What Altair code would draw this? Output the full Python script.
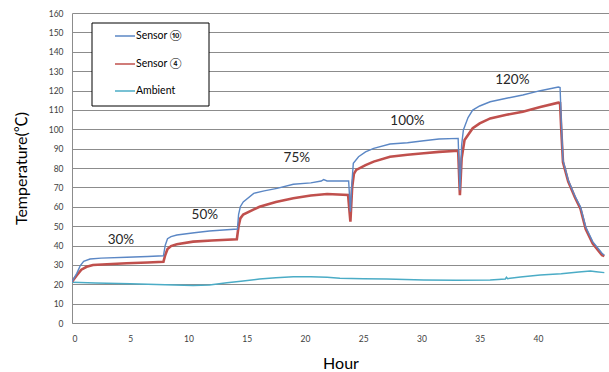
import altair as alt
import pandas as pd

# ---- data ----
s10_t = [0, 0.4, 0.7, 1.0, 1.55, 2.5, 4.7, 6.5, 7.85, 8.0, 8.2, 8.5, 9.0, 10.5, 11.8, 13.0, 14.2,
         14.3, 14.45, 14.7, 15.6, 16.5, 17.6, 19.0, 20.5, 21.4, 21.6, 21.9, 23.75, 23.9, 24.0, 24.15,
         24.6, 25.2, 25.9, 27.3, 28.8, 30.2, 31.5, 33.15, 33.3, 33.45, 33.6, 34.0, 34.4, 35.0, 35.9,
         37.3, 38.7, 40.2, 41.75, 41.9, 42.0, 42.15, 42.6, 43.2, 43.65, 44.1, 44.7, 45.5, 45.7]
s10_v = [21.3, 25.5, 29.5, 31.8, 33.0, 33.5, 33.9, 34.3, 34.7, 40, 43.5, 44.6, 45.4, 46.6, 47.5, 48.0, 48.5,
         56, 60, 62.5, 66.9, 68.2, 69.5, 71.6, 72.3, 73.3, 74.0, 73.3, 73.3, 57.5, 70, 82.4,
         85.8, 88.3, 90.1, 92.4, 93.0, 94.1, 95.0, 95.3, 68.5, 92, 99.6, 106, 109.9, 112, 114.2,
         116, 117.7, 119.9, 121.8, 121.5, 105, 84, 73.8, 65.2, 60, 49.7, 42, 36, 35]

s4_t = [0, 0.4, 0.8, 1.26, 1.8, 3.0, 4.7, 6.5, 7.85, 8.0, 8.2, 8.5, 9.0, 10.4, 12.0, 14.15,
        14.3, 14.45, 14.7, 16.1, 17.5, 19.0, 20.5, 21.9, 23.7, 23.9, 24.05, 24.2, 24.4, 25.2, 25.9,
        27.3, 28.8, 30.2, 31.5, 33.15, 33.3, 33.45, 33.7, 34.4, 35.0, 35.9, 37.3, 38.7, 40.2, 41.75,
        41.9, 42.0, 42.15, 42.6, 43.2, 43.65, 44.1, 44.7, 45.5, 45.7]
s4_v = [21.3, 24.5, 27.5, 29.0, 29.9, 30.3, 30.8, 31.2, 31.6, 35, 38.2, 39.7, 40.6, 42.0, 42.6, 43.2,
        50, 54, 56, 60, 62.5, 64.4, 65.8, 66.6, 66.1, 52.3, 70, 77, 79, 81.5, 83.3,
        85.8, 86.8, 87.6, 88.3, 88.9, 66, 85, 94.5, 100.5, 103, 105.6, 107.5, 109, 111.5, 113.7,
        113.5, 100, 83, 73, 64.5, 59, 48.5, 41, 35, 34.5]

amb_t = [0, 2, 5, 8, 10.4, 11.8, 13.3, 14.5, 16.1, 17.5, 19.0, 20.5, 21.9, 23.0, 25, 27, 30.2, 33,
         35.9, 37.2, 37.3, 37.4, 38.5, 40.2, 42, 43.5, 44.5, 45.0, 45.7]
amb_v = [21.0, 20.6, 20.2, 19.8, 19.3, 19.6, 20.8, 21.6, 22.7, 23.4, 23.9, 23.9, 23.6, 23.1, 22.9, 22.7, 22.2, 22.1,
         22.2, 22.7, 23.6, 22.9, 23.8, 24.8, 25.4, 26.3, 26.8, 26.5, 26.0]

series_names = ["Sensor ⑩", "Sensor ④", "Ambient"]
series_colors = ["#5B87C5", "#C0504D", "#4BACC6"]

ann_text = ["30%", "50%", "75%", "100%", "120%"]
ann_x = [4.2, 11.4, 19.3, 28.8, 37.8]
ann_y = [42.8, 55.7, 85.4, 104.5, 125.2]

x_ticks = [0, 5, 10, 15, 20, 25, 30, 35, 40]
y_ticks = list(range(0, 161, 10))

FONT = "Lato, 'Noto Sans CJK JP', sans-serif"

df10 = pd.DataFrame({"t": s10_t, "v": s10_v})
df4 = pd.DataFrame({"t": s4_t, "v": s4_v})
dfa = pd.DataFrame({"t": amb_t, "v": amb_v})
dfann = pd.DataFrame({"t": ann_x, "v": ann_y, "label": ann_text})

xs = alt.Scale(domain=[0, 46.1], nice=False, zero=False)
ys = alt.Scale(domain=[0, 160], nice=False)

X = alt.X("t:Q", scale=xs, title="Hour",
          axis=alt.Axis(values=x_ticks, grid=False, ticks=False, labelFontSize=8.5,
                        labelColor="#404040", labelPadding=11, domainColor="#8c8c8c",
                        titleFontSize=16, titleFont=FONT, titleFontWeight="normal",
                        titlePadding=13, titleColor="#000000", labelFont=FONT,
                        labelOverlap=False))
Y = alt.Y("v:Q", scale=ys, title="Temperature(℃)",
          axis=alt.Axis(values=y_ticks, tickCount=17, grid=True, gridColor="#8c8c8c", ticks=False,
                        labelFontSize=8.5, labelColor="#404040", labelPadding=9,
                        domainColor="#8c8c8c", titleFontSize=16, titleFont=FONT,
                        titleFontWeight="normal", titlePadding=19, titleColor="#000000",
                        labelFont=FONT, labelOverlap=False))

amb = alt.Chart(dfa).mark_line(color=series_colors[2], strokeWidth=1.5, clip=True).encode(x=X, y=Y)
red = alt.Chart(df4).mark_line(color=series_colors[1], strokeWidth=2.6, clip=True).encode(x=X, y=Y)
blue = alt.Chart(df10).mark_line(color=series_colors[0], strokeWidth=1.4, clip=True).encode(x=X, y=Y)

ann = alt.Chart(dfann).mark_text(fontSize=13.5, font=FONT, color="#262626").encode(
    x=X, y=Y, text="label:N")

# legend box (pixel positions inside the plot area)
leg_rows = pd.DataFrame({"name": series_names, "color": series_colors, "py": [23, 51, 78]})
leg_box = alt.Chart(pd.DataFrame({"a": [0]})).mark_rect(
    fill="white", stroke="black", strokeWidth=1).encode(
    x=alt.value(20), x2=alt.value(137), y=alt.value(10), y2=alt.value(93))
leg_lines = alt.Chart(leg_rows).mark_rule(strokeWidth=1.5).encode(
    x=alt.value(43), x2=alt.value(63), y=alt.Y("py:Q", scale=None),
    color=alt.Color("color:N", scale=None))
leg_text = alt.Chart(leg_rows).mark_text(align="left", baseline="middle", fontSize=10.5,
                                         font=FONT, color="#000000").encode(
    x=alt.value(64), y=alt.Y("py:Q", scale=None), text="name:N")

chart = alt.layer(amb, red, blue, ann, leg_box, leg_lines, leg_text).properties(
    width=537, height=310,
    autosize=alt.AutoSizeParams(type="none"),
    padding={"left": 72, "top": 13, "right": 0, "bottom": 49},
    background="white",
).configure_view(stroke=None)

chart.save("out.html", embed_options={"renderer": "svg", "actions": False})
